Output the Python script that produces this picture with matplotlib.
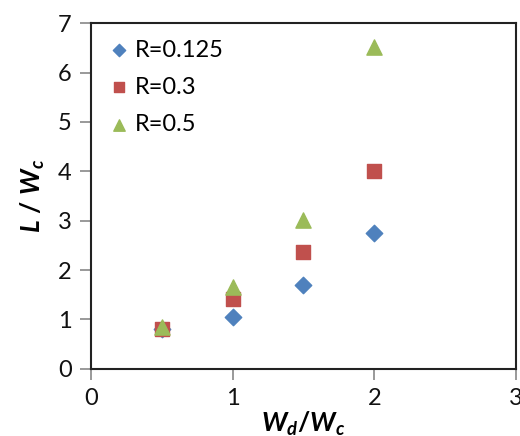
import matplotlib
matplotlib.use("Agg")
import matplotlib.pyplot as plt

plt.rcParams["font.family"] = ["Lato", "DejaVu Sans"]
plt.rcParams["mathtext.fontset"] = "custom"
plt.rcParams["mathtext.it"] = "Lato:italic:bold"
plt.rcParams["mathtext.rm"] = "Lato:bold"

# L/Wc against Wd/Wc for three values of R
wd_wc = [0.5, 1.0, 1.5, 2.0]
r_0125 = [0.80, 1.05, 1.69, 2.75]
r_03 = [0.80, 1.41, 2.36, 4.01]
r_05 = [0.84, 1.65, 3.01, 6.52]
labels = ["R=0.125", "R=0.3", "R=0.5"]

fig = plt.figure(figsize=(5.2, 4.36), dpi=100)
ax = fig.add_axes([0.175, 0.154, 0.817, 0.793])

ax.scatter(wd_wc, r_0125, marker="D", s=70, color="#4F81BD", label=labels[0], zorder=3)
ax.scatter(wd_wc, r_03, marker="s", s=110, color="#C0504D", label=labels[1], zorder=3)
ax.scatter(wd_wc, r_05, marker="^", s=120, color="#9BBB59", label=labels[2], zorder=3)

ax.set_xlim(0, 3)
ax.set_ylim(0, 7)
ax.set_xticks([0, 1, 2, 3])
ax.set_yticks(range(8))
ax.tick_params(direction="out", length=8, width=1.2, color="#888888",
               labelsize=17, pad=6, labelcolor="#111111")
for sp in ax.spines.values():
    sp.set_color("#222222")
    sp.set_linewidth(1.5)

ax.set_xlabel(r"$W_d/W_c$", fontsize=19, labelpad=0)
ax.set_ylabel(r"$L\ /\ W_c$", fontsize=19, labelpad=8)

ax.legend(loc="upper left", frameon=False, fontsize=17, handletextpad=0.15,
          borderaxespad=0.3, labelspacing=0.68, markerscale=0.75,
          handlelength=1.0)

fig.savefig("out.png", dpi=100, facecolor="white")
